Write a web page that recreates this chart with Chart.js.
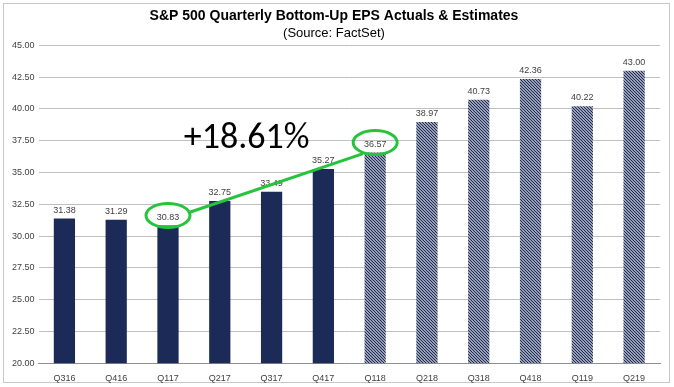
<!DOCTYPE html>
<html lang="en">
<head>
  <title>S&P 500 Quarterly Bottom-Up EPS</title>
  <script src="https://cdn.jsdelivr.net/npm/chart.js@4.4.1/dist/chart.umd.min.js"></script>
  <style>
    body { margin: 0; background: #fff; }
    .card { position: relative; width: 674px; height: 387px; }
  </style>
</head>
<body>
  <div class="card">
    <canvas id="mycanvas" width="674" height="387"></canvas>
  </div>

<script>
// quarters on the x axis
const quarters = ["Q316","Q416","Q117","Q217","Q317","Q417","Q118","Q218","Q318","Q418","Q119","Q219"];
// bottom-up EPS, actuals then estimates
const eps = [31.38, 31.29, 30.83, 32.75, 33.49, 35.27, 36.57, 38.97, 40.73, 42.36, 40.22, 43.00];
const actualCount = 6; // first 6 are actuals (solid), rest estimates (hatched)
// growth callout: from Q117 to Q118
const calloutFrom = 2, calloutTo = 6;
const calloutText = "+18.61%";

const navy = "#1b2a56";

// fine diagonal hatch for estimates
function hatch() {
  const c = document.createElement("canvas");
  c.width = 3; c.height = 3;
  const g = c.getContext("2d");
  g.fillStyle = "#ffffff"; g.fillRect(0, 0, 3, 3);
  g.strokeStyle = navy; g.lineWidth = 1.3;
  g.beginPath();
  g.moveTo(0, 0); g.lineTo(3, 3);
  g.moveTo(-1, 2); g.lineTo(1, 4);
  g.moveTo(2, -1); g.lineTo(4, 1);
  g.stroke();
  return document.getElementById("mycanvas").getContext("2d").createPattern(c, "repeat");
}
const pat = hatch();
const barColors = eps.map((v, i) => i < actualCount ? navy : pat);

// frame, value labels and green callout
const extras = {
  id: "extras",
  beforeDraw(chart) {
    const g = chart.ctx;
    g.save();
    g.strokeStyle = "#c8c8c8"; g.lineWidth = 1;
    g.strokeRect(3.5, 3.5, 666, 379);
    g.restore();
  },
  afterDatasetsDraw(chart) {
    const g = chart.ctx;
    const meta = chart.getDatasetMeta(0);
    g.save();
    g.font = "9px Arial, 'Liberation Sans'";
    g.fillStyle = "#404040";
    g.textAlign = "center"; g.textBaseline = "bottom";
    meta.data.forEach((b, i) => {
      g.fillText(eps[i].toFixed(2), b.x, b.y - 4);
    });
    // callout
    const a = meta.data[calloutFrom], b = meta.data[calloutTo];
    const ay = a.y - 10, by = b.y - 10;
    g.strokeStyle = "#26c43c"; g.lineWidth = 3;
    g.beginPath(); g.ellipse(a.x, ay, 22, 12, 0, 0, Math.PI * 2); g.stroke();
    g.beginPath(); g.ellipse(b.x, by, 22, 12, 0, 0, Math.PI * 2); g.stroke();
    g.beginPath(); g.moveTo(a.x + 21, ay - 3); g.lineTo(b.x - 12, by + 11); g.stroke();
    g.fillStyle = "#000";
    g.font = "36px Calibri, Carlito, 'Liberation Sans', Arial";
    g.textAlign = "center"; g.textBaseline = "middle";
    const mid = chart.scales.x.getPixelForValue((calloutFrom + calloutTo) / 2) - 25;
    g.fillText(calloutText, mid, chart.scales.y.getPixelForValue(37.6));
    g.restore();
  }
};

new Chart(document.getElementById("mycanvas"), {
  type: "bar",
  data: {
    labels: quarters,
    datasets: [{
      data: eps,
      backgroundColor: barColors,
      borderWidth: 0,
      barPercentage: 0.41,
      categoryPercentage: 1
    }]
  },
  options: {
    responsive: false,
    animation: false,
    layout: { padding: { left: 8, right: 14, bottom: 1 } },
    scales: {
      y: {
        min: 20, max: 45,
        ticks: {
          stepSize: 2.5,
          callback: v => v.toFixed(2),
          font: { size: 9, family: "Arial" },
          color: "#404040",
          padding: 4
        },
        grid: { color: "#c0c0c0", drawTicks: false },
        border: { display: false }
      },
      x: {
        ticks: { font: { size: 9, family: "Arial" }, color: "#404040", padding: 2 },
        grid: { display: false },
        border: { color: "#909090" }
      }
    },
    plugins: {
      legend: { display: false },
      tooltip: { enabled: false },
      title: {
        display: true,
        text: "S&P 500 Quarterly Bottom-Up EPS Actuals & Estimates",
        font: { size: 14, weight: "bold", family: "Arial" },
        color: "#000",
        padding: { top: 8, bottom: 0 }
      },
      subtitle: {
        display: true,
        text: "(Source: FactSet)",
        font: { size: 13, family: "Arial" },
        color: "#000",
        padding: { top: 1, bottom: 4 }
      }
    }
  },
  plugins: [extras]
});
</script>
</body>
</html>
